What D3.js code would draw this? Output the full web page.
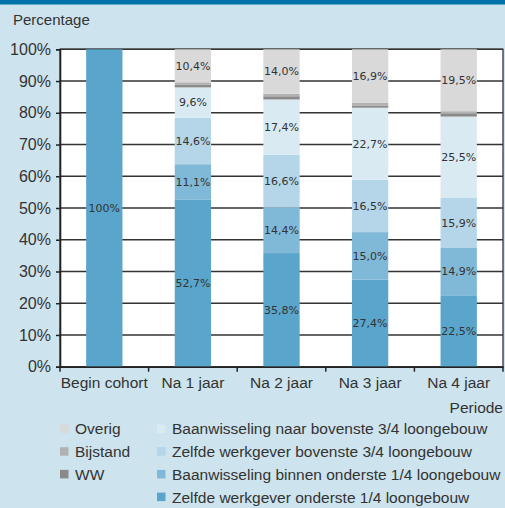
<!DOCTYPE html>
<html>
<head>
<meta charset="utf-8">
<script src="https://cdn.jsdelivr.net/npm/d3@7"></script>
<style>
  html, body { margin: 0; padding: 0; background: #cde3ed; }
  svg { display: block; }
  text { font-family: "Liberation Sans", Arial, sans-serif; fill: #333; }
</style>
</head>
<body>
<svg id="chart" width="505" height="508"></svg>
<script>
// data
const categories = ['Begin cohort', 'Na 1 jaar', 'Na 2 jaar', 'Na 3 jaar', 'Na 4 jaar']
const series_names = [
  'Zelfde werkgever onderste 1/4 loongebouw',
  'Baanwisseling binnen onderste 1/4 loongebouw',
  'Zelfde werkgever bovenste 3/4 loongebouw',
  'Baanwisseling naar bovenste 3/4 loongebouw',
  'WW',
  'Bijstand',
  'Overig'
]
const zelfde_onder = [100, 52.7, 35.8, 27.4, 22.5]
const wissel_onder = [0, 11.1, 14.4, 15.0, 14.9]
const zelfde_boven = [0, 14.6, 16.6, 16.5, 15.9]
const wissel_boven = [0, 9.6, 17.4, 22.7, 25.5]
const ww = [0, 0.9, 1.0, 0.7, 0.9]
const bijstand = [0, 0.7, 0.8, 0.8, 0.8]
const overig = [0, 10.4, 14.0, 16.9, 19.5]
const y_ticks = [0, 10, 20, 30, 40, 50, 60, 70, 80, 90, 100]
const colors = ['#5aa5cb', '#80b9d7', '#b4d6e8', '#d9eaf3', '#8a8a8a', '#b1b1b1', '#d9d9da']

// legend layout: left column, right column
const legend_left = [6, 5, 4]
const legend_right = [3, 2, 1, 0]

const all_series = [zelfde_onder, wissel_onder, zelfde_boven, wissel_boven, ww, bijstand, overig]
const rows = categories.map((c, i) => {
  const r = { cat: c }
  all_series.forEach((s, k) => r[k] = s[i])
  return r
})

const svg = d3.select('#chart')
const p_left = 60, p_right = 503, p_top = 49.3, p_bottom = 366.7

svg.append('rect')
  .attr('x', 0).attr('y', 0).attr('width', 505).attr('height', 4.5)
  .attr('fill', '#0072aa')

const x = d3.scaleBand().domain(categories).range([p_left, p_right])
  .paddingInner(0.59).paddingOuter(0.295)
const y = d3.scaleLinear().domain([0, 100]).range([p_bottom, p_top])

svg.append('rect')
  .attr('x', p_left).attr('y', p_top)
  .attr('width', p_right - p_left).attr('height', p_bottom - p_top)
  .attr('fill', '#fff')
  .attr('stroke', '#333').attr('stroke-width', 1.3)

// gridlines
svg.append('g')
  .selectAll('line')
  .data(y_ticks.slice(1))
  .enter()
    .append('line')
    .attr('x1', p_left).attr('x2', p_right)
    .attr('y1', d => y(d)).attr('y2', d => y(d))
    .attr('stroke', '#333').attr('stroke-width', 1.6)

const stack = d3.stack().keys(d3.range(all_series.length))
const stacked = stack(rows)

const g_bars = svg.append('g')
stacked.forEach((layer, k) => {
  g_bars.selectAll('.s' + k)
    .data(layer)
    .enter()
      .append('rect')
      .attr('class', 's' + k)
      .attr('x', d => x(d.data.cat))
      .attr('width', x.bandwidth())
      .attr('y', d => y(d[1]))
      .attr('height', d => y(d[0]) - y(d[1]))
      .attr('fill', colors[k])
})

// value labels (not for WW / Bijstand)
const fmt = v => (v === 100 ? '100' : v.toFixed(1).replace('.', ',')) + '%'
stacked.forEach((layer, k) => {
  if (k === 4 || k === 5) return
  g_bars.selectAll('.l' + k)
    .data(layer.filter(d => d[1] - d[0] > 0))
    .enter()
      .append('text')
      .attr('class', 'l' + k)
      .attr('x', d => x(d.data.cat) + x.bandwidth() / 2)
      .attr('y', d => y((d[0] + d[1]) / 2))
      .attr('dy', '0.35em')
      .attr('text-anchor', 'middle')
      .style('font-family', '"DejaVu Sans", sans-serif')
      .style('font-size', '11px')
      .text(d => fmt(d[1] - d[0]))
})

// axes
const y_axis = svg.append('g')
  .attr('transform', `translate(${p_left},0)`)
  .call(d3.axisLeft(y).tickValues(y_ticks).tickFormat(d => d + '%').tickSize(4).tickPadding(5))
y_axis.select('.domain').attr('stroke', '#222').attr('stroke-width', 1.6)
y_axis.selectAll('line').attr('stroke', '#222').attr('stroke-width', 1.5)
y_axis.selectAll('text').style('font-size', '16px').style('font-family', '"Liberation Sans", Arial, sans-serif').attr('fill', '#333')

const x_axis = svg.append('g')
  .attr('transform', `translate(0,${p_bottom})`)
  .call(d3.axisBottom(x).tickSize(0).tickPadding(10))
x_axis.select('.domain').attr('stroke', '#222').attr('stroke-width', 1.6)
x_axis.selectAll('text').style('font-size', '15.5px').style('font-family', '"Liberation Sans", Arial, sans-serif').attr('fill', '#333')

// band boundary ticks
const step = x.step()
svg.append('g')
  .selectAll('line')
  .data(d3.range(categories.length + 1))
  .enter()
    .append('line')
    .attr('x1', i => p_left + i * step).attr('x2', i => p_left + i * step)
    .attr('y1', p_bottom).attr('y2', p_bottom + 5)
    .attr('stroke', '#222').attr('stroke-width', 1.5)

svg.append('text')
  .attr('x', 13).attr('y', 25)
  .style('font-size', '15px')
  .text('Percentage')

svg.append('text')
  .attr('x', 503).attr('y', 413)
  .attr('text-anchor', 'end')
  .style('font-size', '15.5px')
  .text('Periode')

// legend
function legend_col(items, lx) {
  const g = svg.append('g')
  g.selectAll('rect')
    .data(items)
    .enter()
      .append('rect')
      .attr('x', lx).attr('y', (d, i) => 424.5 + i * 22.7)
      .attr('width', 8.5).attr('height', 8.5)
      .attr('fill', d => colors[d])
  g.selectAll('text')
    .data(items)
    .enter()
      .append('text')
      .attr('x', lx + 15).attr('y', (d, i) => 429 + i * 22.7)
      .attr('dy', '0.35em')
      .style('font-size', '15.5px')
      .text(d => series_names[d])
}
legend_col(legend_left, 60)
legend_col(legend_right, 157)
</script>
</body>
</html>
